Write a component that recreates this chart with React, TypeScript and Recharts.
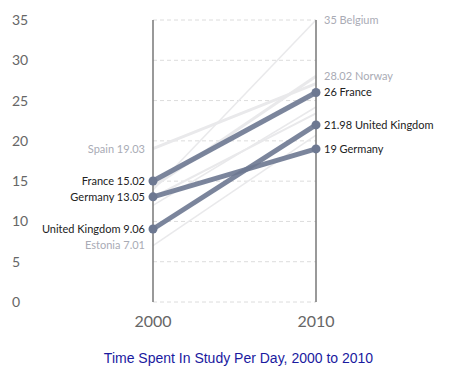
import React from 'react';
import { LineChart, Line, XAxis, YAxis, CartesianGrid, LabelList } from 'recharts';

const years = ['2000', '2010'];
const yTicks = [0, 5, 10, 15, 20, 25, 30, 35];

// background (grey) countries
const greyCountries = ['Belgium', 'Norway', 'Spain', 'Finland', 'Italy', 'Estonia'];
const grey2000 = [13.9, 14.3, 19.03, 12.0, 13.0, 7.01];
const grey2010 = [35, 28.02, 27.1, 24.2, 23.4, 20.7];
const greyLabelLeft = [false, false, true, false, false, true];
const greyLabelRight = [true, true, false, false, false, false];
const greyWidths = [1.5, 3, 3, 1.5, 2, 1.5];

// highlighted countries
const hiCountries = ['France', 'Germany', 'United Kingdom'];
const hi2000 = [15.02, 13.05, 9.06];
const hi2010 = [26, 19, 21.98];

const allCountries = [...greyCountries, ...hiCountries];
const all2000 = [...grey2000, ...hi2000];
const all2010 = [...grey2010, ...hi2010];

const data = years.map((y, i) => {
  const row: Record<string, any> = { year: y };
  allCountries.forEach((c, j) => {
    row[c] = i === 0 ? all2000[j] : all2010[j];
  });
  return row;
});

const FONT = 'Lato, "Open Sans", sans-serif';
const HI_COLOR = '#6d7891';

const makeLabel = (name: string, left: boolean, right: boolean, color: string) => (props: any) => {
  const { x, y, value, index } = props;
  if (index === 0 && left) {
    return (
      <text x={x - 8} y={y} dy="0.35em" textAnchor="end" fontSize={11} fontFamily={FONT} fill={color}>
        {`${name} ${value}`}
      </text>
    );
  }
  if (index === 1 && right) {
    return (
      <text x={x + 8} y={y} dy="0.35em" textAnchor="start" fontSize={11} fontFamily={FONT} fill={color}>
        {`${value} ${name}`}
      </text>
    );
  }
  return null;
};

const LeftTick = (props: any) => {
  const { y, payload } = props;
  return (
    <text x={12} y={y} dy="0.355em" textAnchor="start" fontSize={14} fontFamily={FONT} fill="#666">
      {payload.value}
    </text>
  );
};

const RightTick = (props: any) => {
  const { y, payload } = props;
  return (
    <text x={456} y={y} dy="0.355em" textAnchor="end" fontSize={14} fontFamily={FONT} fill="#666">
      {payload.value}
    </text>
  );
};

const BottomTick = (props: any) => {
  const { x, y, payload } = props;
  return (
    <text x={x} y={y + 17} textAnchor="middle" fontSize={16} fontFamily={FONT} fill="#666">
      {payload.value}
    </text>
  );
};

const TitleLabel = (props: any) => {
  const vb = props.viewBox || {};
  return (
    <text
      x={vb.x + vb.width / 2 + 4}
      y={vb.y + 61}
      textAnchor="middle"
      fontSize={14}
      fontFamily='"Liberation Sans", Arial, sans-serif'
      fill="#1a1aa0"
    >
      Time Spent In Study Per Day, 2000 to 2010
    </text>
  );
};

export default function App() {
  return (
    <div style={{ position: 'absolute', left: 0, top: 0, background: '#fff' }}>
      <LineChart width={473} height={371} data={data} margin={{ top: 20, right: 7, bottom: 39, left: 8 }}>
        <CartesianGrid
          yAxisId="left"
          horizontal
          vertical={false}
          stroke="#dcdcdc"
          strokeDasharray="4 3"
        />
        <XAxis
          dataKey="year"
          axisLine={false}
          tickLine={false}
          tick={<BottomTick />}
          height={30}
          interval={0}
          label={<TitleLabel />}
        />
        <YAxis
          yAxisId="left"
          orientation="left"
          domain={[0, 35]}
          ticks={yTicks}
          width={145}
          axisLine={{ stroke: '#777', strokeWidth: 1.5 }}
          tickLine={false}
          tick={<LeftTick />}
          interval={0}
        />
        <YAxis
          yAxisId="right"
          orientation="right"
          domain={[0, 35]}
          ticks={yTicks}
          width={150}
          axisLine={{ stroke: '#777', strokeWidth: 1.5 }}
          tickLine={false}
          tick={<RightTick />}
          interval={0}
        />
        {greyCountries.map((c, j) => (
          <Line
            key={c}
            yAxisId="left"
            type="linear"
            dataKey={c}
            stroke="#e9e9eb"
            strokeWidth={greyWidths[j]}
            dot={false}
            activeDot={false}
            isAnimationActive={false}
          >
            <LabelList dataKey={c} content={makeLabel(c, greyLabelLeft[j], greyLabelRight[j], '#a9abb5')} />
          </Line>
        ))}
        {hiCountries.map((c) => (
          <Line
            key={c}
            yAxisId="left"
            type="linear"
            dataKey={c}
            stroke={HI_COLOR}
            strokeOpacity={0.9}
            strokeWidth={5}
            dot={{ r: 4.5, fill: HI_COLOR, stroke: 'none', fillOpacity: 1 }}
            activeDot={false}
            isAnimationActive={false}
          >
            <LabelList dataKey={c} content={makeLabel(c, true, true, '#222')} />
          </Line>
        ))}
      </LineChart>
    </div>
  );
}
